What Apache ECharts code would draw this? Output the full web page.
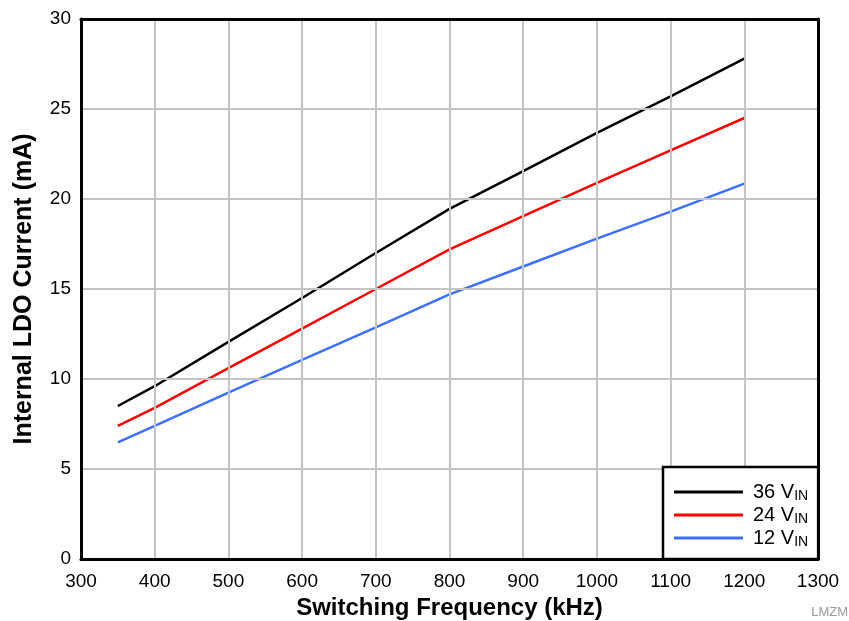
<!DOCTYPE html>
<html><head><meta charset="utf-8">
<script src="https://cdn.jsdelivr.net/npm/echarts@6/dist/echarts.min.js"></script>
<style>html,body{margin:0;padding:0;background:#fff}#c{width:849px;height:621px}</style>
</head><body><div id="c"></div>
<script>
const freq = [350, 400, 500, 600, 700, 800, 900, 1000, 1100, 1200];
const v36 = [8.5, 9.6, 12.06, 14.5, 17.0, 19.45, 21.55, 23.67, 25.7, 27.8];
const v24 = [7.4, 8.4, 10.6, 12.8, 15.0, 17.2, 19.05, 20.9, 22.7, 24.5];
const v12 = [6.48, 7.4, 9.24, 11.06, 12.87, 14.7, 16.25, 17.8, 19.3, 20.85];
const seriesNames = ['36 V', '24 V', '12 V'];
const seriesColors = ['#000000', '#ff0000', '#3f6fff'];
const xTicks = [300, 400, 500, 600, 700, 800, 900, 1000, 1100, 1200, 1300];
const yTicks = [0, 5, 10, 15, 20, 25, 30];

const font = '"Liberation Sans", Arial, Helvetica, sans-serif';
const chart = echarts.init(document.getElementById('c'));
const dataSets = [v36, v24, v12];
const xMin = xTicks[0], xMax = xTicks[xTicks.length - 1];
const yMin = yTicks[0], yMax = yTicks[yTicks.length - 1];
const frameAxis = { show: true, z: 30, axisLine: { show: true, onZero: false, lineStyle: { color: '#000', width: 3 } }, axisTick: { show: false }, axisLabel: { show: false }, splitLine: { show: false } };
chart.setOption({
  animation: false,
  textStyle: { fontFamily: font },
  grid: { left: 81, top: 19, right: 31, bottom: 62, containLabel: false, outerBoundsMode: 'none' },
  xAxis: [{
    type: 'value', min: xMin, max: xMax, interval: 100, z: 10,
    name: 'Switching Frequency (kHz)', nameLocation: 'middle', nameGap: 35,
    nameTextStyle: { fontSize: 24, fontWeight: 'bold', color: '#000', fontFamily: font },
    axisLine: { show: true, onZero: false, lineStyle: { color: '#000', width: 3 } },
    axisTick: { show: false },
    axisLabel: { fontSize: 19, color: '#000', margin: 13, fontFamily: font, formatter: v => String(v) },
    splitLine: { show: true, lineStyle: { color: '#c4c4c4', width: 2 } }
  }, Object.assign({ type: 'value', position: 'top', min: xMin, max: xMax, interval: 100 }, frameAxis)],
  yAxis: [{
    type: 'value', min: yMin, max: yMax, interval: 5, z: 10,
    name: 'Internal LDO Current (mA)', nameLocation: 'middle', nameGap: 44, nameRotate: 90,
    nameTextStyle: { fontSize: 25, fontWeight: 'bold', color: '#000', fontFamily: font },
    axisLine: { show: true, onZero: false, lineStyle: { color: '#000', width: 3 } },
    axisTick: { show: false },
    axisLabel: { fontSize: 19, color: '#000', margin: 10, fontFamily: font },
    splitLine: { show: true, lineStyle: { color: '#c4c4c4', width: 2 } }
  }, Object.assign({ type: 'value', position: 'right', min: yMin, max: yMax, interval: 5 }, frameAxis)],
  legend: {
    orient: 'vertical', left: 663, top: 467, z: 40,
    backgroundColor: '#fff', borderColor: '#000', borderWidth: 2.5,
    padding: [14, 10, 10, 11], itemGap: 1,
    itemWidth: 69, itemHeight: 20, icon: 'path://M0,8.5 L69,8.5 L69,11.5 L0,11.5 Z',
    data: seriesNames,
    formatter: n => '{a|' + n + '}{b|IN}',
    textStyle: {
      color: '#000', fontFamily: font,
      rich: {
        a: { fontSize: 20, fontFamily: font, color: '#000', lineHeight: 20, padding: [0, 0, 0, 5] },
        b: { fontSize: 14, fontFamily: font, color: '#000', lineHeight: 14, padding: [8, 0, 0, 0] }
      }
    }
  },
  graphic: [{ type: 'text', right: 1, bottom: 2, style: { text: 'LMZM', fontSize: 13, fill: '#999', fontFamily: font } }],
  series: seriesNames.map((n, i) => ({
    name: n, type: 'line', showSymbol: false, symbol: 'none',
    data: freq.map((f, j) => [f, dataSets[i][j]]),
    lineStyle: { color: seriesColors[i], width: 2.5 },
    itemStyle: { color: seriesColors[i] }
  }))
});
</script></body></html>
